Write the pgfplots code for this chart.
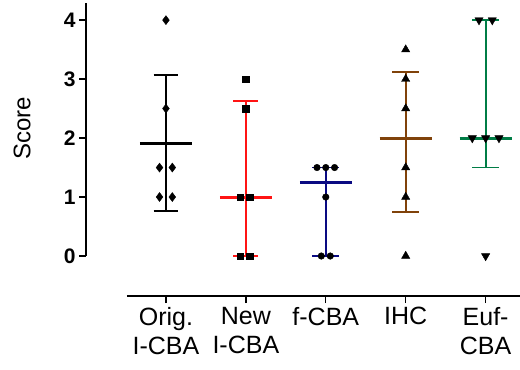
\documentclass[border=0pt]{standalone}
\usepackage{pgfplots}
\pgfplotsset{compat=1.18}
\usepackage{fontspec}
\setmainfont{Liberation Sans}
\definecolor{cred}{RGB}{255,20,20}
\definecolor{cnavy}{RGB}{10,10,130}
\definecolor{cbrown}{RGB}{128,66,10}
\definecolor{cgreen}{RGB}{0,125,70}
\begin{document}
\begin{tikzpicture}
\begin{axis}[
  scale only axis,
  width=434pt, height=293pt,
  xmin=0, xmax=5.43, ymin=-0.678, ymax=4.29,
  axis lines*=left,
  axis line style={draw=none},
  clip=false,
  tick align=outside,
  major tick length=7pt,
  tick style={black, line width=1.3pt},
  xtick={1,2,3,4,5},
  xticklabels={Orig.\\I-CBA, New\\I-CBA, f-CBA, IHC, Euf-\\CBA},
  xticklabel style={align=center, font=\fontsize{25}{29}\selectfont, anchor=north, yshift=-1pt},
  ytick={0,1,2,3,4},
  yticklabel style={font=\fontsize{21}{24}\selectfont\bfseries},
  /pgf/number format/assume math mode=true,
  ylabel={Score},
  ylabel style={font=\fontsize{24}{28}\selectfont, at={(axis description cs:-0.147,0.573)}, anchor=center, rotate=0},
]
% axis lines
\draw[black, line width=1.3pt] (axis cs:0,0) -- (axis cs:0,4.29);
\draw[black, line width=1.3pt] (axis cs:0.51,-0.678) -- (axis cs:5.43,-0.678);

% Orig. I-CBA (mean +/- SD)
\addplot[black, line width=1.9pt] coordinates {(1,0.768) (1,3.07)};
\addplot[black, line width=1.9pt] coordinates {(0.845,0.768) (1.155,0.768)};
\addplot[black, line width=1.9pt] coordinates {(0.845,3.07) (1.155,3.07)};
\addplot[black, line width=3pt] coordinates {(0.675,1.91) (1.325,1.91)};
% New I-CBA
\addplot[cred, line width=1.9pt] coordinates {(2,0) (2,2.63)};
\addplot[cred, line width=1.9pt] coordinates {(1.845,0) (2.155,0)};
\addplot[cred, line width=1.9pt] coordinates {(1.845,2.63) (2.155,2.63)};
\addplot[cred, line width=3pt] coordinates {(1.675,1) (2.325,1)};
% f-CBA
\addplot[cnavy, line width=1.9pt] coordinates {(3,0) (3,1.5)};
\addplot[cnavy, line width=1.9pt] coordinates {(2.83,0) (3.17,0)};
\addplot[cnavy, line width=1.9pt] coordinates {(2.83,1.5) (3.17,1.5)};
\addplot[cnavy, line width=3pt] coordinates {(2.675,1.25) (3.325,1.25)};
% IHC
\addplot[cbrown, line width=1.9pt] coordinates {(4,0.75) (4,3.12)};
\addplot[cbrown, line width=1.9pt] coordinates {(3.83,0.75) (4.17,0.75)};
\addplot[cbrown, line width=1.9pt] coordinates {(3.83,3.12) (4.17,3.12)};
\addplot[cbrown, line width=3pt] coordinates {(3.675,2) (4.325,2)};
% Euf-CBA
\addplot[cgreen, line width=1.9pt] coordinates {(5,1.5) (5,4)};
\addplot[cgreen, line width=1.9pt] coordinates {(4.83,1.5) (5.17,1.5)};
\addplot[cgreen, line width=1.9pt] coordinates {(4.83,4) (5.17,4)};
\addplot[cgreen, line width=3pt] coordinates {(4.675,2) (5.325,2)};

% points
\addplot[only marks, mark=diamond*, mark size=4.5pt, black] coordinates {
 (1,4) (1,2.5) (0.92,1.5) (1.08,1.5) (0.92,1) (1.08,1)};
\addplot[only marks, mark=square*, mark size=3.3pt, black] coordinates {
 (2,3) (2,2.5) (1.93,1) (2.05,1) (1.93,0) (2.05,0)};
\addplot[only marks, mark=*, mark size=3.3pt, black] coordinates {
 (2.89,1.5) (3,1.5) (3.11,1.5) (3,1) (2.944,0) (3.056,0)};
\addplot[only marks, mark=triangle*, mark size=4.8pt, black] coordinates {
 (4,3.5) (4,3) (4,2.5) (4,1.5) (4,1) (4,0)};
\addplot[only marks, mark=triangle*, mark options={rotate=180}, mark size=4.8pt, black] coordinates {
 (4.917,4) (5.083,4) (4.833,2) (5,2) (5.167,2) (5,0)};
\end{axis}
\pgfresetboundingbox
\path[use as bounding box] ([shift={(-86pt,-73pt)}]current axis.south west) rectangle ([shift={(0pt,3pt)}]current axis.north east);
\end{tikzpicture}
\end{document}
